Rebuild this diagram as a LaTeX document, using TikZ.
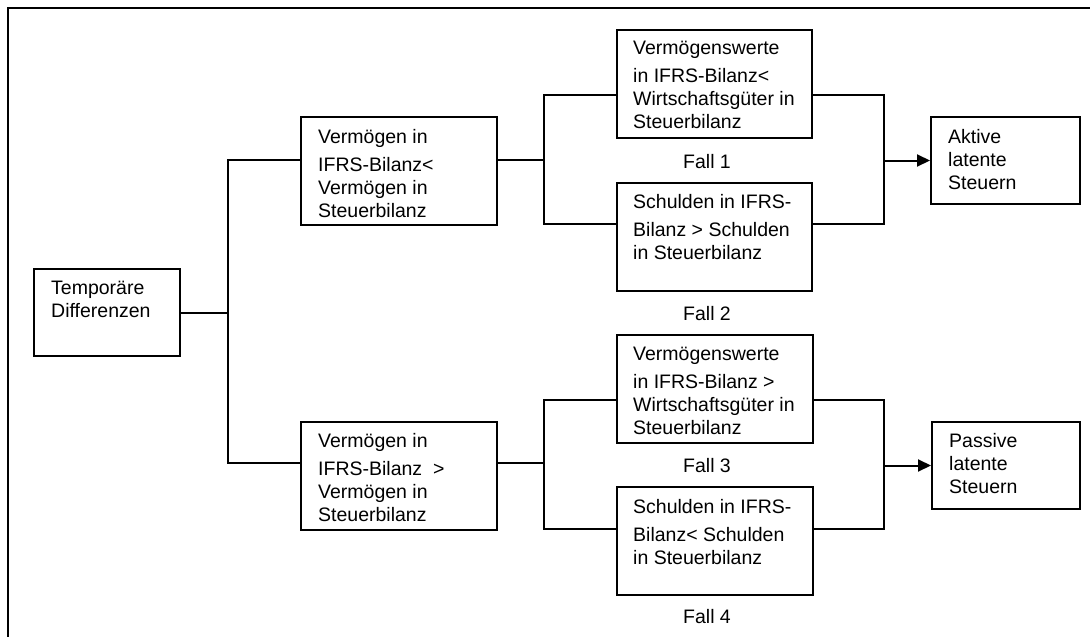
\documentclass[tikz,border=0pt]{standalone}
\usepackage{fontspec}
\setmainfont{Liberation Sans}
\usetikzlibrary{arrows.meta}
\begin{document}
\begin{tikzpicture}[x=1pt,y=-1pt,
  box/.style={draw, line width=2pt, inner sep=0pt, anchor=north west},
  txt/.style={anchor=north west, inner sep=0pt, align=left, font=\fontsize{19.5}{23}\selectfont},
  fall/.style={anchor=base, inner sep=0pt, font=\fontsize{19.5}{23}\selectfont},
  conn/.style={line width=2pt},
  arr/.style={-{Triangle[length=13pt,width=12pt]}}]
\useasboundingbox (0,0) rectangle (1090,637);
% frame
\draw[line width=2pt] (8,640) -- (8,8) -- (1092,8);
% boxes
\node[box, minimum width=146pt, minimum height=87pt] (temp) at (33,268) {};
\node[box, minimum width=196pt, minimum height=108pt] (vA) at (300,116) {};
\node[box, minimum width=196pt, minimum height=108pt] (vB) at (300,421) {};
\node[box, minimum width=195pt, minimum height=108pt] (b1) at (616,29) {};
\node[box, minimum width=195pt, minimum height=108pt] (b2) at (616,182) {};
\node[box, minimum width=196pt, minimum height=108pt] (b3) at (616,334) {};
\node[box, minimum width=196pt, minimum height=108pt] (b4) at (616,486) {};
\node[box, minimum width=149pt, minimum height=87pt] (akt) at (930,116) {};
\node[box, minimum width=148pt, minimum height=87pt] (pas) at (931,421) {};
% texts
\node[txt] (ttemp) at (51,281) {Temporäre\\Differenzen};
\node[txt] (tvA) at (318,129) {Vermögen in\\[5pt]IFRS-Bilanz<\\Vermögen in\\Steuerbilanz};
\node[txt] (tvB) at (318,433) {Vermögen in\\[5pt]IFRS-Bilanz \ >\\Vermögen in\\Steuerbilanz};
\node[txt] (tb1) at (633,41) {Vermögenswerte\\[5pt]in IFRS-Bilanz<\\Wirtschaftsgüter in\\Steuerbilanz};
\node[txt] (tb2) at (633,194) {Schulden in IFRS-\\[5pt]Bilanz > Schulden\\in Steuerbilanz};
\node[txt] (tb3) at (633,347) {Vermögenswerte\\[5pt]in IFRS-Bilanz >\\Wirtschaftsgüter in\\Steuerbilanz};
\node[txt] (tb4) at (633,499) {Schulden in IFRS-\\[5pt]Bilanz< Schulden\\in Steuerbilanz};
\node[txt] (takt) at (948,129) {Aktive\\latente\\Steuern};
\node[txt] (tpas) at (949,433) {Passive\\latente\\Steuern};
\node[fall] (f1) at (707,168) {Fall 1};
\node[fall] (f2) at (707,320) {Fall 2};
\node[fall] (f3) at (707,472) {Fall 3};
\node[fall] (f4) at (707,623) {Fall 4};
% connectors left
\coordinate (s0) at (228,160);
\coordinate (s1) at (228,463);
\draw[conn] (temp.east) -- (temp.east -| s0);
\draw[conn] (vA.west |- s0) -- (s0) -- (s1) -- (vB.west |- s1);
% upper branch
\coordinate (a0) at (544,95);
\coordinate (a1) at (544,224);
\coordinate (r0) at (884,95);
\coordinate (r1) at (884,224);
\draw[conn] (vA.east |- s0) -- (a0 |- s0);
\draw[conn] (b1.west |- a0) -- (a0) -- (a1) -- (b2.west |- a1);
\draw[conn] (b1.east |- r0) -- (r0) -- (r1) -- (b2.east |- r1);
\draw[conn, arr] (akt.west -| r0) -- (akt.west);
% lower branch
\coordinate (c0) at (544,400);
\coordinate (c1) at (544,529);
\coordinate (q0) at (884,400);
\coordinate (q1) at (884,529);
\draw[conn] (vB.east |- s1) -- (c0 |- s1);
\draw[conn] (b3.west |- c0) -- (c0) -- (c1) -- (b4.west |- c1);
\draw[conn] (b3.east |- q0) -- (q0) -- (q1) -- (b4.east |- q1);
\draw[conn, arr] (pas.west -| q0) -- (pas.west);
\end{tikzpicture}
\end{document}
